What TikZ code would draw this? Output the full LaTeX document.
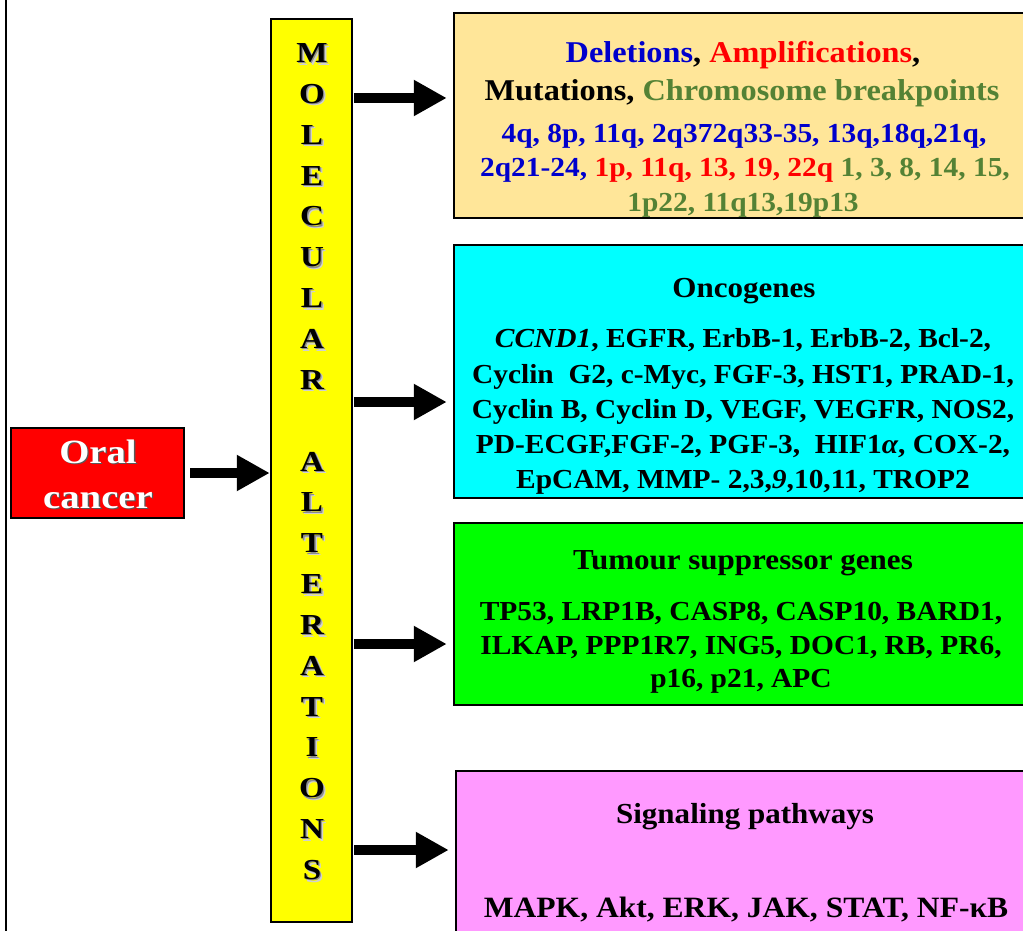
\documentclass[tikz,border=0pt]{standalone}
\usepackage{fontspec}
\setmainfont{Liberation Serif}
\newfontfamily\tnr{Liberation Serif}[FakeStretch=1.07]
\newfontfamily\wide{Liberation Serif}[FakeStretch=1.14]
\usetikzlibrary{arrows.meta}
\definecolor{tanbox}{HTML}{FFE699}
\definecolor{cyanbox}{HTML}{00FFFF}
\definecolor{greenbox}{HTML}{00FF00}
\definecolor{pinkbox}{HTML}{FF99FF}
\definecolor{yellowbox}{HTML}{FFFF00}
\definecolor{redbox}{HTML}{FF0000}
\definecolor{dblue}{HTML}{0000CC}
\definecolor{dred}{HTML}{FF0000}
\definecolor{dgreen}{HTML}{548235}
% text with drop shadow inside one box: #1 offset, #2 colour, #3 text
\newcommand\myshad[3]{\makebox[0pt][l]{\hspace{#1}\raisebox{-#1}{\color{#2}#3}}#3}
\newcommand\letshad[1]{\makebox[0pt][l]{\hspace{2.6pt}\raisebox{-2.6pt}{\color{black!18}#1}}\makebox[0pt][l]{\hspace{1.3pt}\raisebox{-1.3pt}{\color{black!45}#1}}#1}
\tikzset{
  box/.style={draw=black, line width=2.5pt, inner sep=0pt, rectangle},
  bigarrow/.style={line width=10pt, -{Triangle[length=33pt,width=34pt]}},
  hdr/.style={anchor=base, inner sep=0pt, font=\tnr\bfseries\fontsize{29}{31}\selectfont},
  hdrone/.style={anchor=base, inner sep=0pt, font=\tnr\bfseries\fontsize{30.2}{31}\selectfont},
  dat/.style={anchor=base, inner sep=0pt, font=\tnr\bfseries\fontsize{27.5}{30}\selectfont},
  datone/.style={anchor=base, inner sep=0pt, font=\tnr\bfseries\fontsize{27.5}{30}\selectfont},
  big/.style={anchor=base, inner sep=0pt, font=\tnr\bfseries\fontsize{29.5}{31}\selectfont},
  letter/.style={anchor=base, inner sep=0pt, font=\wide\bfseries\fontsize{29}{30}\selectfont},
  oral/.style={anchor=base, inner sep=0pt, text=white, font=\wide\bfseries\fontsize{34}{36}\selectfont}
}
\begin{document}
\begin{tikzpicture}[x=1pt,y=-1pt]
\clip (0,0) rectangle (1023,931);
\fill[white] (0,0) rectangle (1023,931);
% left frame line
\draw[line width=2.5pt] (6,-5) -- (6,940);

% boxes
\node[box, fill=redbox, minimum width=173pt, minimum height=90pt] (oc) at (97.5,473) {};
\node[box, fill=yellowbox, minimum width=81pt, minimum height=903pt] (ml) at (311.5,470.5) {};
\node[box, fill=tanbox, minimum width=578pt, minimum height=205pt] (b1) at (743,115.5) {};
\node[box, fill=cyanbox, minimum width=578pt, minimum height=253pt] (b2) at (743,371.5) {};
\node[box, fill=greenbox, minimum width=578pt, minimum height=182pt] (b3) at (743,614) {};
\node[box, fill=pinkbox, minimum width=576pt, minimum height=200pt] (b4) at (744,871) {};

% Oral cancer
\node[oral] (oc1) at (98,{451+12}) {\myshad{1.3pt}{black!65}{Oral}};
\node[oral] (oc2) at (98,{496+12}) {\myshad{1.3pt}{black!65}{cancer}};

% vertical letters
\foreach \ch [count=\i from 0] in {M,O,L,E,C,U,L,A,R} {
  \node[letter] (la\i) at (312,{52+40.85*\i+10.5}) {\letshad{\ch}};
}
\foreach \ch [count=\i from 10] in {A,L,T,E,R,A,T,I,O,N,S} {
  \node[letter] (lb\i) at (312,{52+40.85*\i+10.5}) {\letshad{\ch}};
}

% arrows
\coordinate (a0) at (190,473);
\draw[bigarrow] (a0) -- (a0 -| ml.west);
\coordinate (a1) at (354,98);
\coordinate (a2) at (354,402);
\coordinate (a3) at (354,644);
\coordinate (a4) at (354,850);
\draw[bigarrow, shorten >=6pt] (a1) -- (a1 -| b1.west);
\draw[bigarrow, shorten >=6pt] (a2) -- (a2 -| b2.west);
\draw[bigarrow, shorten >=6pt] (a3) -- (a3 -| b3.west);
\draw[bigarrow, shorten >=6pt] (a4) -- (a4 -| b4.west);

% box 1 text
\node[hdrone] (t11) at (743,{53+10}) {{\color{dblue}Deletions}, {\color{dred}Amplifications},};
\node[hdrone] (t12) at (742,{91+10}) {Mutations, {\color{dgreen}Chromosome breakpoints}};
\node[datone, text=dblue] (t13) at (744,{133+9.5}) {4q, 8p, 11q, 2q372q33-35, 13q,18q,21q,};
\node[datone] (t14) at (745,{167+9.5}) {{\color{dblue}2q21-24,} {\color{dred}1p, 11q, 13, 19, 22q} {\color{dgreen}1, 3, 8, 14, 15,}};
\node[datone, text=dgreen] (t15) at (743,{202+9.5}) {1p22, 11q13,19p13};

% box 2 text
\node[hdr] (t21) at (744,{287+10}) {Oncogenes};
\node[dat] (t22) at (743,{338+9.5}) {\textit{CCND1}, EGFR, ErbB-1, ErbB-2, Bcl-2,};
\node[dat] (t23) at (743,{374+9.5}) {Cyclin\ \ G2, c-Myc, FGF-3, HST1, PRAD-1,};
\node[dat] (t24) at (743,{409+9.5}) {Cyclin B, Cyclin D, VEGF, VEGFR, NOS2,};
\node[dat] (t25) at (743,{444+9.5}) {PD-ECGF,FGF-2, PGF-3,\ \ HIF1\textit{α}, COX-2,};
\node[dat] (t26) at (743,{479+9.5}) {EpCAM, MMP- 2,3,\textit{9},10,11, TROP2};

% box 3 text
\node[hdr] (t31) at (743,{559+10}) {Tumour suppressor genes};
\node[dat] (t32) at (741,{611+9.5}) {TP53, LRP1B, CASP8, CASP10, BARD1,};
\node[dat] (t33) at (741,{645+9.5}) {ILKAP, PPP1R7, ING5, DOC1, RB, PR6,};
\node[dat] (t34) at (741,{678+9.5}) {p16, p21, APC};

% box 4 text
\node[hdr] (t41) at (745,{813+10}) {Signaling pathways};
\node[big] (t42) at (746,{907+10}) {MAPK, Akt, ERK, JAK, STAT, NF-κB};
\end{tikzpicture}
\end{document}
